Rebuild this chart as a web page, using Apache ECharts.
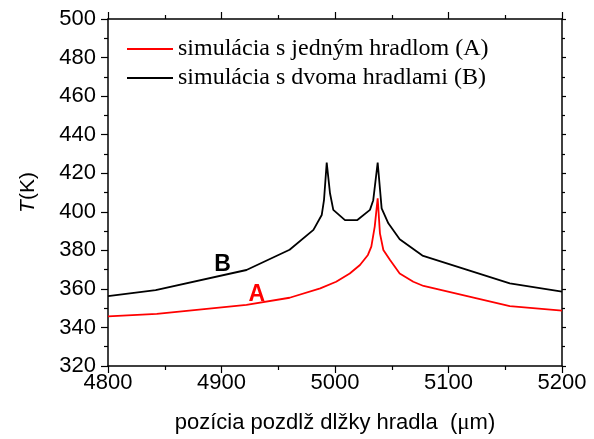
<!DOCTYPE html>
<html>
<head>
<meta charset="utf-8">
<script src="https://cdn.jsdelivr.net/npm/echarts@6/dist/echarts.min.js"></script>
<style>
html,body{margin:0;padding:0;background:#fff;}
#chart{width:594px;height:439px;}
</style>
</head>
<body>
<div id="chart"></div>
<script>
// Series A: one gate (red)
const xA = [4800, 4843, 4922, 4960, 4987, 5001, 5013, 5022, 5029, 5032, 5035, 5037.6, 5039.6, 5042.6, 5048.5, 5057, 5069, 5078, 5154, 5200];
const yA = [345.7, 347.0, 351.7, 355.4, 360.3, 363.7, 368.0, 372.4, 377.6, 381.9, 392.3, 407.0, 388.8, 380.2, 375.0, 368.0, 363.7, 361.5, 351.1, 348.7];
// Series B: two gates (black)
const xB = [4800, 4842, 4922, 4960, 4981, 4988.3, 4990.3, 4992.7, 4995.6, 4998.5, 5008.8, 5019.7, 5030.8, 5033.7, 5037.6, 5041.1, 5047, 5057, 5077, 5154, 5200];
const yB = [356.3, 359.4, 369.8, 380.3, 390.6, 398.3, 406.0, 425.5, 409.6, 401.0, 395.7, 395.7, 401.0, 406.0, 425.5, 401.8, 394.0, 385.8, 377.3, 362.9, 358.6];
const seriesNames = ['simulácia s jedným hradlom (A)', 'simulácia s dvoma hradlami (B)'];
const labelA = [4931, 356.8];
const labelB = [4901, 372.4];
const xRange = [4800, 5200, 100];
const yRange = [320, 500, 20];

const sans = 'Liberation Sans, Arial, sans-serif';
const serif = 'Liberation Serif, Times New Roman, serif';

function pairs(xs, ys){ return xs.map((x,i)=>[x, ys[i]]); }

const axisLine = {show:true, onZero:false, lineStyle:{color:'#000', width:1.5}};
function xAx(pos, showLabel){
  return {
    type:'value', position:pos, min:xRange[0], max:xRange[1], interval:xRange[2],
    axisLine:axisLine,
    axisTick:{show:true, inside:false, length:7, lineStyle:{color:'#000', width:1.2}},
    minorTick:{show:true, splitNumber:2, length:4, lineStyle:{color:'#000', width:1.2}},
    splitLine:{show:false},
    axisLabel:{show:showLabel, color:'#000', fontFamily:sans, fontSize:22, margin:6, formatter:(v)=>String(v)},
    name: showLabel ? 'pozícia pozdlž dlžky hradla  ({m|μ}m)' : '',
    nameLocation:'middle', nameGap:45,
    nameTextStyle:{color:'#000', fontFamily:sans, fontSize:22, rich:{m:{fontFamily:serif, fontSize:23, color:'#000'}}}
  };
}
function yAx(pos, showLabel){
  return {
    type:'value', position:pos, min:yRange[0], max:yRange[1], interval:yRange[2],
    axisLine:axisLine,
    axisTick:{show:true, inside:false, length: showLabel?7:4, lineStyle:{color:'#000', width:1.2}},
    minorTick:{show:true, splitNumber:2, length: showLabel?4:3, lineStyle:{color:'#000', width:1.2}},
    splitLine:{show:false},
    axisLabel:{show:showLabel, color:'#000', fontFamily:sans, fontSize:22, margin:12},
    name: showLabel ? '{i|T}(K)' : '',
    nameLocation:'middle', nameGap:69, nameRotate:90,
    nameTextStyle:{color:'#000', fontFamily:sans, fontSize:21, rich:{i:{fontStyle:'italic', fontFamily:sans, fontSize:21, color:'#000'}}}
  };
}

const chart = echarts.init(document.getElementById('chart'), null, {renderer:'canvas'});
chart.setOption({
  animation:false,
  backgroundColor:'#fff',
  grid:{left:108, right:32, top:19, bottom:73},
  legend:{
    orient:'vertical', left:127, top:37, itemGap:5, padding:0,
    icon:'rect', itemWidth:46, itemHeight:2,
    textStyle:{fontFamily:serif, fontSize:24, color:'#000', lineHeight:24, padding:0},
    data:seriesNames
  },
  xAxis:[xAx('bottom', true), xAx('top', false)],
  yAxis:[yAx('left', true), yAx('right', false)],
  series:[
    {
      name:seriesNames[0], type:'line', data:pairs(xA,yA), showSymbol:false, symbol:'none',
      lineStyle:{color:'#ff0000', width:1.8}, itemStyle:{color:'#ff0000'},
      markPoint:{symbol:'circle', symbolSize:1, itemStyle:{color:'rgba(0,0,0,0)'},
        data:[{coord:labelA, label:{show:true, position:'inside', formatter:'A', color:'#ff0000', fontFamily:sans, fontWeight:'bold', fontSize:23}}]}
    },
    {
      name:seriesNames[1], type:'line', data:pairs(xB,yB), showSymbol:false, symbol:'none',
      lineStyle:{color:'#000', width:1.8}, itemStyle:{color:'#000'},
      markPoint:{symbol:'circle', symbolSize:1, itemStyle:{color:'rgba(0,0,0,0)'},
        data:[{coord:labelB, label:{show:true, position:'inside', formatter:'B', color:'#000', fontFamily:sans, fontWeight:'bold', fontSize:23}}]}
    }
  ]
});
</script>
</body>
</html>
